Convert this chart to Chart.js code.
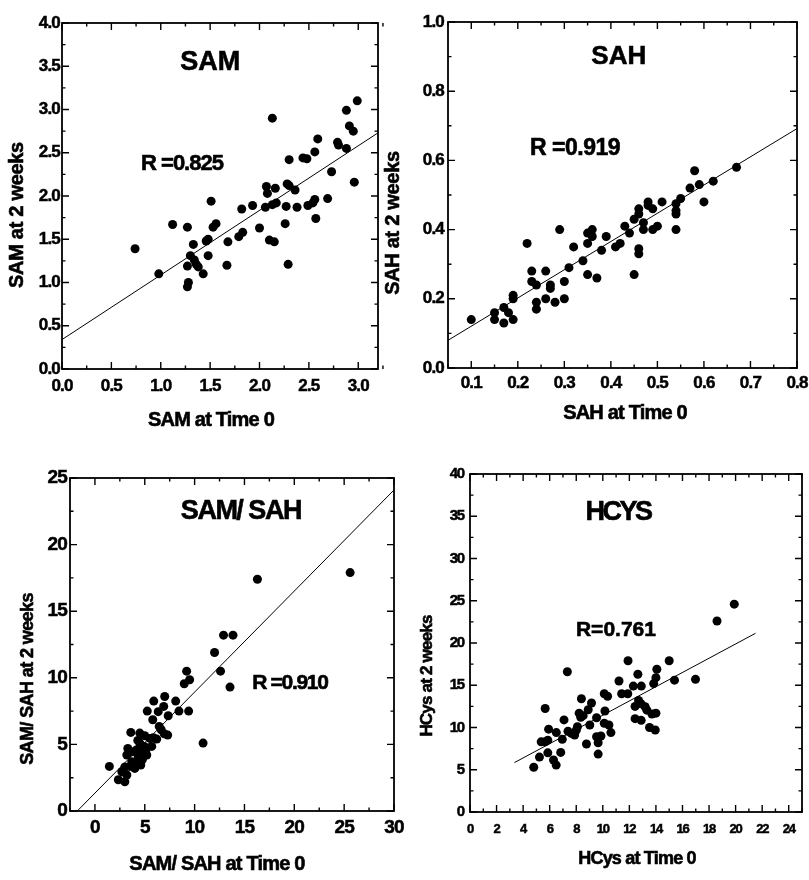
<!DOCTYPE html>
<html lang="en">
<head>
  <meta charset="UTF-8" />
  <title>SAM, SAH, SAM/SAH and HCys at Time 0 and at 2 weeks</title>
  <script src="https://cdn.jsdelivr.net/npm/chart.js@4.4.0/dist/chart.umd.min.js"></script>
  <style>
    body { margin: 0; background: #fff; }
    #page { position: relative; width: 809px; height: 880px; overflow: hidden; }
    canvas { position: absolute; }
  </style>
</head>
<body>
<div id="page">
  <canvas id="samChart" width="392" height="435" style="left:0px;top:0px"></canvas>
  <canvas id="sahChart" width="427" height="435" style="left:382px;top:0px"></canvas>
  <canvas id="ratioChart" width="405" height="445" style="left:0px;top:435px"></canvas>
  <canvas id="hcysChart" width="404" height="445" style="left:405px;top:435px"></canvas>
</div>
<script>
// ---- SAM (top left)
const samX = [0.74, 0.98, 1.12, 1.27, 1.33, 1.30, 1.27, 1.36, 1.34, 1.38, 1.28, 1.27, 1.43, 1.48, 1.46, 1.48,
  1.51, 1.53, 1.56, 1.67, 1.68, 1.79, 1.83, 1.82, 1.93, 2.00, 2.06, 2.07, 2.08, 2.13, 2.17, 2.16, 2.13, 2.10,
  2.15, 2.27, 2.26, 2.29, 2.28, 2.30, 2.36, 2.30, 2.38, 2.44, 2.48, 2.49, 2.54, 2.56, 2.57, 2.56, 2.59, 2.69,
  2.73, 2.79, 2.80, 2.88, 2.88, 2.91, 2.95, 2.96, 2.99];
const samY = [1.39, 1.10, 1.67, 1.64, 1.44, 1.31, 1.19, 1.21, 1.26, 1.18, 1.00, 0.95, 1.10, 1.31, 1.48, 1.50,
  1.94, 1.64, 1.68, 1.20, 1.47, 1.53, 1.58, 1.85, 1.89, 1.63, 1.87, 2.11, 2.03, 1.90, 1.92, 2.09, 2.90, 1.49,
  1.47, 1.88, 1.68, 1.21, 2.14, 2.12, 2.07, 2.42, 1.87, 2.44, 2.43, 1.89, 1.92, 1.96, 1.74, 2.51, 2.66, 1.97,
  2.28, 2.62, 2.59, 2.55, 2.99, 2.81, 2.75, 2.16, 3.10];
const samFitX = [0, 3.2];
const samFitY = [0.34, 2.73];
const samXTicks = [0, 0.5, 1, 1.5, 2, 2.5, 3];
const samYTicks = [0, 0.5, 1, 1.5, 2, 2.5, 3, 3.5, 4];

// ---- SAH (top right)
const sahX = [0.10, 0.15, 0.15, 0.17, 0.17, 0.18, 0.19, 0.19, 0.19, 0.22, 0.23, 0.23, 0.24, 0.24, 0.24, 0.26,
  0.26, 0.27, 0.27, 0.28, 0.29, 0.30, 0.30, 0.31, 0.32, 0.34, 0.35, 0.35, 0.35, 0.36, 0.36, 0.37, 0.38, 0.39,
  0.41, 0.42, 0.43, 0.44, 0.45, 0.45, 0.46, 0.46, 0.46, 0.46, 0.47, 0.47, 0.48, 0.48, 0.49, 0.49, 0.50, 0.51,
  0.54, 0.54, 0.54, 0.54, 0.55, 0.57, 0.58, 0.59, 0.60, 0.62, 0.67];
const sahY = [0.14, 0.16, 0.14, 0.175, 0.13, 0.16, 0.21, 0.20, 0.14, 0.36, 0.28, 0.25, 0.24, 0.19, 0.17, 0.28,
  0.20, 0.24, 0.23, 0.19, 0.40, 0.25, 0.20, 0.29, 0.35, 0.31, 0.39, 0.36, 0.27, 0.40, 0.38, 0.26, 0.34, 0.38,
  0.35, 0.36, 0.41, 0.39, 0.27, 0.43, 0.46, 0.445, 0.345, 0.33, 0.42, 0.40, 0.48, 0.47, 0.46, 0.40, 0.41, 0.48,
  0.475, 0.455, 0.445, 0.40, 0.49, 0.52, 0.57, 0.53, 0.48, 0.54, 0.58];
const sahFitX = [0.05, 0.8];
const sahFitY = [0.08, 0.692];
const sahXTicks = [0.1, 0.2, 0.3, 0.4, 0.5, 0.6, 0.7, 0.8];
const sahYTicks = [0, 0.2, 0.4, 0.6, 0.8, 1.0];

// ---- SAM/SAH (bottom left)
const ratioX = [25.6, 16.3, 12.9, 13.85, 12.0, 12.6, 13.55, 10.85, 9.2, 8.96, 9.5, 9.4, 8.1, 8.43, 7.0, 6.9,
  6.35, 5.9, 5.25, 5.8, 7.35, 7.3, 6.45, 6.65, 6.95, 3.6, 4.5, 5.0, 5.5, 5.85, 6.2, 5.7, 3.3, 3.2, 3.7, 4.2,
  4.5, 4.95, 4.7, 4.35, 4.75, 5.2, 4.2, 3.7, 3.5, 4.0, 4.6, 3.0, 2.7, 3.2, 2.35, 3.0, 1.45, 4.8, 5.1, 4.3];
const ratioY = [17.9, 17.4, 13.2, 13.2, 11.9, 10.5, 9.3, 5.1, 10.5, 9.55, 9.85, 7.5, 8.25, 7.5, 8.6, 7.85,
  7.46, 8.25, 7.5, 6.85, 7.15, 5.7, 6.35, 6.1, 5.8, 5.9, 5.85, 5.65, 5.45, 5.5, 5.4, 4.85, 4.7, 4.2, 4.45, 4.6,
  5.1, 4.85, 4.35, 4.1, 3.85, 4.2, 3.7, 3.7, 3.35, 3.2, 3.45, 3.3, 2.95, 2.7, 2.35, 2.2, 3.35, 4.0, 4.5, 5.3];
const ratioFitX = [-1.77, 30];
const ratioFitY = [0, 24.1];
const ratioXTicks = [0, 5, 10, 15, 20, 25, 30];
const ratioYTicks = [0, 5, 10, 15, 20, 25];

// ---- HCys (bottom right)
const hcysX = [19.9, 18.6, 7.33, 11.9, 15.0, 14.07, 14.0, 13.83, 12.64, 11.22, 15.4, 16.98, 12.3, 12.9, 11.42,
  11.88, 10.11, 10.36, 12.69, 12.89, 13.19, 13.32, 12.43, 13.7, 14.0, 12.43, 12.89, 13.52, 13.95, 10.16, 9.53,
  10.11, 10.46, 10.61, 9.15, 8.9, 8.39, 8.22, 8.34, 8.52, 8.09, 8.01, 9.02, 8.77, 9.53, 9.65, 9.86, 9.65, 7.38,
  7.63, 7.88, 7.08, 5.66, 5.92, 6.5, 6.95, 5.36, 5.66, 5.86, 5.86, 5.23, 6.29, 6.49, 6.83, 4.8];
const hcysY = [24.6, 22.6, 16.6, 17.9, 17.9, 16.9, 15.9, 15.2, 16.3, 15.5, 15.6, 15.7, 14.9, 14.9, 14.0,
  14.0, 14.0, 13.7, 13.2, 12.8, 12.45, 12.05, 12.5, 11.6, 11.7, 11.05, 10.85, 10.0, 9.7, 11.95, 11.15,
  10.5, 10.3, 9.4, 12.9, 12.1, 13.4, 11.7, 11.2, 11.4, 10.1, 9.7, 10.3, 8.05, 8.9, 8.2, 9.0, 6.85, 9.55,
  9.3, 9.1, 10.9, 12.25, 9.8, 9.4, 8.6, 8.3, 8.3, 8.5, 7.0, 6.5, 6.15, 5.55, 7.05, 5.3];
const hcysFitX = [3.35, 21.5];
const hcysFitY = [5.85, 21.15];
const hcysXTicks = [0, 2, 4, 6, 8, 10, 12, 14, 16, 18, 20, 22, 24];
const hcysYTicks = [0, 5, 10, 15, 20, 25, 30, 35, 40];

const FONT = '"Liberation Sans", Arial, sans-serif';

// layout per panel; text entries are [text, x, y, size, spacing]
// title / R positions are in data units, axis titles in page pixels
const panels = {
  samChart: {
    left: 0, top: 0, xs: samX, ys: samY, fitX: samFitX, fitY: samFitY,
    xMin: 0, xMax: 3.2, yMin: 0, yMax: 4, xTicks: samXTicks, yTicks: samYTicks, xMinor: 0.25, yMinor: 0.25,
    digits: 1, padTop: 23, padRight: 14, yWidth: 62, xHeight: 66,
    xFont: 17, yFont: 17, xPad: 7, yPad: 2, spacing: -0.8,
    title: ['SAM', 1.5, 3.54, 27, 0], r: ['R =0.825', 1.215, 2.37, 22, -1],
    xTitle: ['SAM at Time 0', 211, 420, 20, -0.8], yTitle: ['SAM at 2 weeks', 17.5, 215, 20, -0.3]
  },
  sahChart: {
    left: 382, top: 0, xs: sahX, ys: sahY, fitX: sahFitX, fitY: sahFitY,
    xMin: 0.05, xMax: 0.8, yMin: 0, yMax: 1, xTicks: sahXTicks, yTicks: sahYTicks, xMinor: 0.05, yMinor: 0.1,
    digits: 1, padTop: 22, padRight: 12, yWidth: 66, xHeight: 67,
    xFont: 17, yFont: 17, xPad: 5, yPad: 4, spacing: -0.8,
    title: ['SAH', 0.417, 0.90, 26, 0], r: ['R =0.919', 0.323, 0.635, 23, -0.5],
    xTitle: ['SAH at Time 0', 625, 413, 20, -0.8], yTitle: ['SAH at 2 weeks', 393, 223, 20, -0.3]
  },
  ratioChart: {
    left: 0, top: 435, xs: ratioX, ys: ratioY, fitX: ratioFitX, fitY: ratioFitY,
    xMin: -2.5, xMax: 30, yMin: 0, yMax: 25, xTicks: ratioXTicks, yTicks: ratioYTicks, xMinor: 2.5, yMinor: 2.5,
    digits: 0, padTop: 43, padRight: 11, yWidth: 70, xHeight: 69,
    xFont: 19, yFont: 19, xPad: 5, yPad: 3, spacing: -0.8,
    title: ['SAM/ SAH', 14.64, 22.49, 27, -1.5], r: ['R =0.910', 19.56, 9.62, 21, -1.3],
    xTitle: ['SAM/ SAH at Time 0', 217, 864, 20, -0.8], yTitle: ['SAM/ SAH at 2 weeks', 28, 679, 18, -0.6]
  },
  hcysChart: {
    left: 405, top: 435, xs: hcysX, ys: hcysY, fitX: hcysFitX, fitY: hcysFitY,
    xMin: 0, xMax: 25, yMin: 0, yMax: 40, xTicks: hcysXTicks, yTicks: hcysYTicks, xMinor: 1, yMinor: 2.5,
    digits: 0, padTop: 39, padRight: 7, yWidth: 65, xHeight: 68,
    xFont: 13, yFont: 15, xPad: 10, yPad: 6, spacing: -1.2,
    title: ['HCYS', 11.14, 35.4, 27, -2.5], r: ['R=0.761', 10.99, 21.56, 21, 0],
    xTitle: ['HCys at Time 0', 637, 859, 18, -0.8], yTitle: ['HCys at 2 weeks', 427.5, 676, 17, -0.8]
  }
};

function putText(ctx, t, x, y, angle) {
  ctx.save();
  ctx.translate(x, y);
  if (angle) ctx.rotate(angle);
  ctx.font = 'bold ' + t[3] + 'px ' + FONT;
  ctx.letterSpacing = t[4] + 'px';
  ctx.fillStyle = '#000';
  ctx.strokeStyle = '#000';
  ctx.lineWidth = 0.6;
  ctx.textAlign = 'center';
  ctx.textBaseline = 'middle';
  ctx.fillText(t[0], 0, 0);
  ctx.strokeText(t[0], 0, 0);
  ctx.restore();
}

const framePlugin = {
  id: 'frame',
  beforeDraw(chart) {
    chart.ctx.letterSpacing = panels[chart.canvas.id].spacing + 'px';
  },
  afterDraw(chart) {
    const p = panels[chart.canvas.id];
    const ctx = chart.ctx, a = chart.chartArea;
    const sx = chart.scales.x, sy = chart.scales.y;
    ctx.save();
    ctx.strokeStyle = '#000';
    ctx.lineWidth = 1.8;
    ctx.strokeRect(a.left, a.top, a.right - a.left, a.bottom - a.top);

    // inward tick marks on all four sides
    ctx.lineWidth = 1.4;
    ctx.beginPath();
    const mark = (scale, v, len) => {
      const px = scale.getPixelForValue(v);
      if (scale.isHorizontal()) {
        ctx.moveTo(px, a.bottom); ctx.lineTo(px, a.bottom - len);
        ctx.moveTo(px, a.top); ctx.lineTo(px, a.top + len);
      } else {
        ctx.moveTo(a.left, px); ctx.lineTo(a.left + len, px);
        ctx.moveTo(a.right, px); ctx.lineTo(a.right - len, px);
      }
    };
    const minors = (scale, min, max, step, majors) => {
      const n = Math.round((max - min) / step);
      for (let i = 0; i <= n; i++) {
        const v = min + i * step;
        if (!majors.some(m => Math.abs(m - v) < step / 10)) mark(scale, v, 3.5);
      }
    };
    p.xTicks.forEach(v => mark(sx, v, 7));
    p.yTicks.forEach(v => mark(sy, v, 7));
    minors(sx, p.xMin, p.xMax, p.xMinor, p.xTicks);
    minors(sy, p.yMin, p.yMax, p.yMinor, p.yTicks);
    ctx.stroke();

    putText(ctx, p.title, sx.getPixelForValue(p.title[1]), sy.getPixelForValue(p.title[2]));
    putText(ctx, p.r, sx.getPixelForValue(p.r[1]), sy.getPixelForValue(p.r[2]));
    putText(ctx, p.xTitle, p.xTitle[1] - p.left, p.xTitle[2] - p.top);
    putText(ctx, p.yTitle, p.yTitle[1] - p.left, p.yTitle[2] - p.top, -Math.PI / 2);
    ctx.restore();
  }
};

function fixBox(size) {
  return s => {
    if (s.isHorizontal()) s.height = size; else s.width = size;
    s.paddingLeft = s.paddingRight = s.paddingTop = s.paddingBottom = 0;
  };
}

Object.keys(panels).forEach(id => {
  const p = panels[id];
  const tickOpts = (size, pad) => ({
    autoSkip: false, maxRotation: 0, color: '#000', padding: pad,
    textStrokeColor: '#000', textStrokeWidth: 0.5,
    font: { family: FONT, size: size, weight: 'bold' },
    callback: v => Number(v).toFixed(p.digits)
  });
  new Chart(document.getElementById(id), {
    type: 'scatter',
    data: {
      datasets: [{
        data: p.xs.map((x, i) => ({ x: x, y: p.ys[i] })),
        backgroundColor: '#000',
        borderWidth: 0,
        pointRadius: 4.5
      }, {
        data: p.fitX.map((x, i) => ({ x: x, y: p.fitY[i] })),
        showLine: true,
        borderColor: '#000',
        borderWidth: 1,
        pointRadius: 0
      }]
    },
    options: {
      responsive: false,
      animation: false,
      layout: { padding: { left: 0, top: p.padTop, right: p.padRight, bottom: 0 } },
      plugins: { legend: { display: false }, tooltip: { enabled: false } },
      scales: {
        x: {
          min: p.xMin, max: p.xMax,
          grid: { display: false, drawTicks: false },
          border: { display: false },
          afterBuildTicks: s => { s.ticks = p.xTicks.map(v => ({ value: v })); },
          afterFit: fixBox(p.xHeight),
          ticks: tickOpts(p.xFont, p.xPad)
        },
        y: {
          min: p.yMin, max: p.yMax,
          grid: { display: false, drawTicks: false },
          border: { display: false },
          afterBuildTicks: s => { s.ticks = p.yTicks.map(v => ({ value: v })); },
          afterFit: fixBox(p.yWidth),
          ticks: tickOpts(p.yFont, p.yPad)
        }
      }
    },
    plugins: [framePlugin]
  });
});
</script>
</body>
</html>
